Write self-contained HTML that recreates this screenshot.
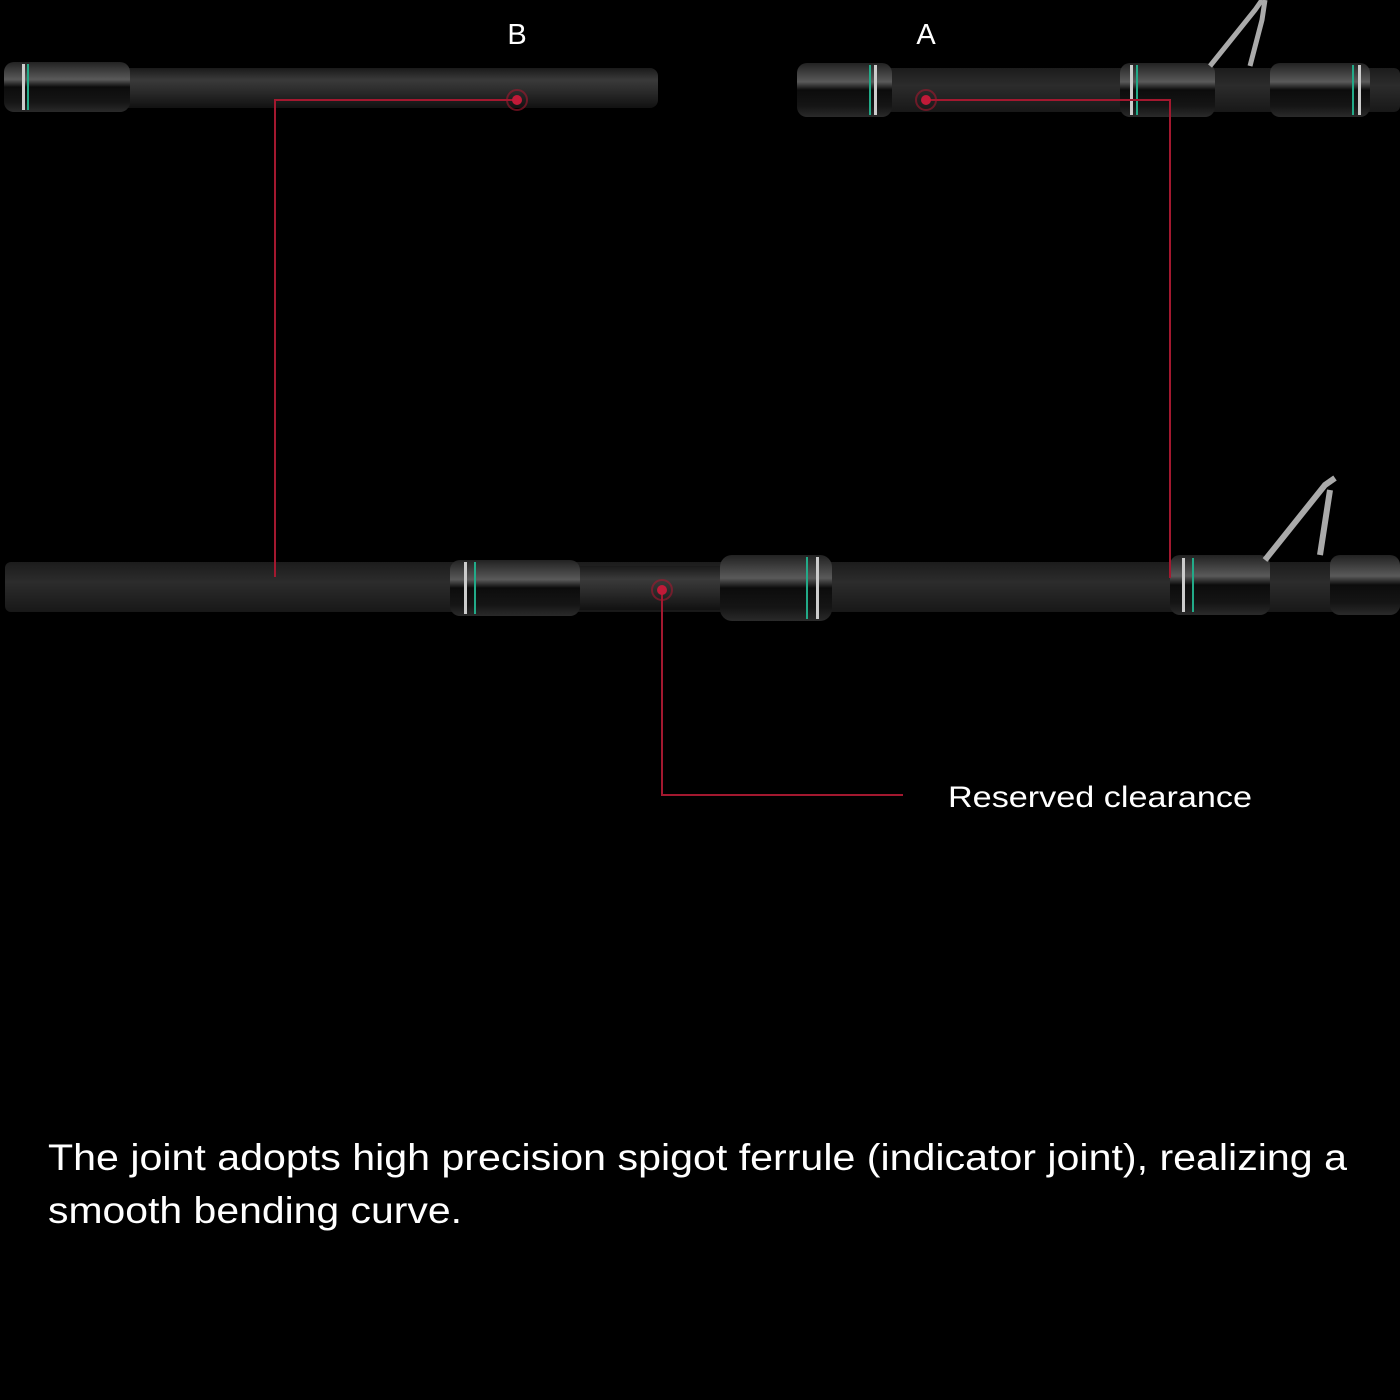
<!DOCTYPE html>
<html><head><style>
body{margin:0;background:#000;}
svg{display:block}
</style></head><body>
<svg width="1400" height="1400" viewBox="0 0 1400 1400" xmlns="http://www.w3.org/2000/svg">
<defs>
<linearGradient id="sh" x1="0" y1="0" x2="0" y2="1">
<stop offset="0" stop-color="#1a1a1a"/><stop offset="0.3" stop-color="#3a3a3a"/><stop offset="0.6" stop-color="#2a2a2a"/><stop offset="1" stop-color="#111"/></linearGradient>
<linearGradient id="gr" x1="0" y1="0" x2="0" y2="1">
<stop offset="0" stop-color="#222"/><stop offset="0.35" stop-color="#5a5a5a"/><stop offset="0.5" stop-color="#0c0c0c"/><stop offset="0.8" stop-color="#151515"/><stop offset="1" stop-color="#2a2a2a"/></linearGradient>
<linearGradient id="bl" x1="0" y1="0" x2="0" y2="1">
<stop offset="0" stop-color="#1c1c1c"/><stop offset="0.4" stop-color="#2c2c2c"/><stop offset="1" stop-color="#181818"/></linearGradient>
</defs>
<rect width="1400" height="1400" fill="#000"/>
<rect x="120" y="68" width="538" height="40" rx="8" fill="url(#sh)"/>
<rect x="4" y="62" width="126" height="50" rx="10" fill="url(#gr)"/>
<rect x="22" y="64" width="3" height="46" fill="#ccc"/><rect x="27" y="64" width="2" height="46" fill="#2a8"/>
<rect x="797" y="68" width="603" height="44" rx="6" fill="url(#bl)"/>
<rect x="797" y="63" width="95" height="54" rx="10" fill="url(#gr)"/>
<rect x="874" y="65" width="3" height="50" fill="#ccc"/><rect x="869" y="65" width="2" height="50" fill="#2a8"/>
<rect x="1120" y="63" width="95" height="54" rx="10" fill="url(#gr)"/>
<rect x="1130" y="65" width="3" height="50" fill="#ccc"/><rect x="1136" y="65" width="2" height="50" fill="#2a8"/>
<rect x="1270" y="63" width="100" height="54" rx="10" fill="url(#gr)"/>
<rect x="1358" y="65" width="3" height="50" fill="#ccc"/><rect x="1352" y="65" width="2" height="50" fill="#2a8"/>
<path d="M1210 66 L1255 10 L1262 0 M1250 66 L1262 20 L1265 0" stroke="#aaa" stroke-width="5" fill="none"/>
<rect x="5" y="562" width="1395" height="50" rx="6" fill="url(#bl)"/>
<rect x="575" y="566" width="150" height="44" fill="url(#sh)"/>
<rect x="450" y="560" width="130" height="56" rx="10" fill="url(#gr)"/>
<rect x="464" y="562" width="3" height="52" fill="#ccc"/><rect x="474" y="562" width="2" height="52" fill="#2a8"/>
<rect x="720" y="555" width="112" height="66" rx="12" fill="url(#gr)"/>
<rect x="806" y="557" width="2" height="62" fill="#2a8"/><rect x="816" y="557" width="3" height="62" fill="#ccc"/>
<rect x="1170" y="555" width="100" height="60" rx="10" fill="url(#gr)"/>
<rect x="1182" y="558" width="3" height="54" fill="#ccc"/><rect x="1192" y="558" width="2" height="54" fill="#2a8"/>
<rect x="1330" y="555" width="70" height="60" rx="10" fill="url(#gr)"/>
<path d="M1265 560 L1325 485 L1335 478 M1320 555 L1330 490" stroke="#aaa" stroke-width="6" fill="none"/>
<g stroke="#a3182f" stroke-width="2" fill="none">
<path d="M517 100 H275 V577"/>
<path d="M926 100 H1170 V578"/>
<path d="M662 591 V795 H903"/>
</g>
<g fill="#c01a38"><circle cx="517" cy="100" r="5"/><circle cx="926" cy="100" r="5"/><circle cx="662" cy="590" r="5"/></g>
<g fill="none" stroke="#a3182f" stroke-width="2" opacity="0.6"><circle cx="517" cy="100" r="10"/><circle cx="926" cy="100" r="10"/><circle cx="662" cy="590" r="10"/></g>
<g font-family="Liberation Sans, sans-serif" fill="#fff">
<text x="517" y="44" font-size="29" text-anchor="middle">B</text>
<text x="926" y="44" font-size="29" text-anchor="middle">A</text>
<text x="948" y="807" font-size="30" textLength="304" lengthAdjust="spacingAndGlyphs">Reserved clearance</text>
<text x="48" y="1170" font-size="37" textLength="1299" lengthAdjust="spacingAndGlyphs">The joint adopts high precision spigot ferrule (indicator joint), realizing a</text>
<text x="48" y="1223" font-size="37" textLength="414" lengthAdjust="spacingAndGlyphs">smooth bending curve.</text>
</g>
</svg>
</body></html>
